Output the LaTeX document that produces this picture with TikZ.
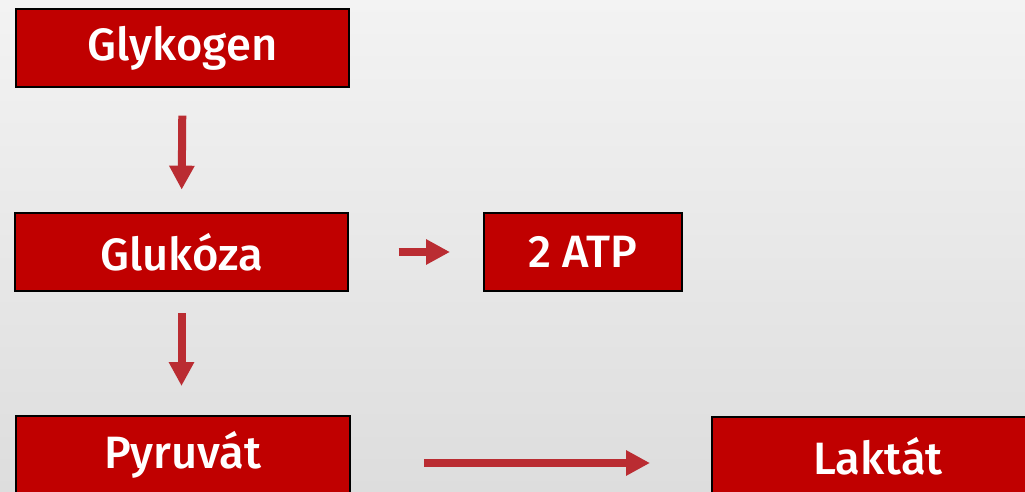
\documentclass[tikz,border=0pt]{standalone}
\usepackage{fontspec}
\setmainfont{Fira Sans}[UprightFont=* Medium]
\usetikzlibrary{arrows.meta}
\definecolor{boxred}{HTML}{C00000}
\definecolor{arrred}{HTML}{BA2C32}
\definecolor{bgtop}{HTML}{F3F3F3}
\definecolor{bgbot}{HTML}{DDDDDD}
\tikzset{
  stepbox/.style={draw=black, line width=1pt, fill=boxred, text=white,
    minimum height=58.5pt, inner sep=0pt, font=\fontsize{34}{40}\selectfont},
  flowarrow/.style={draw=arrred, line width=6pt, -{Triangle[length=18pt,width=18pt]}}
}
\begin{document}
\begin{tikzpicture}[x=0.75pt,y=-0.75pt]
\useasboundingbox (0,0) rectangle (1025,492);
\clip (0,0) rectangle (1025,492);
\shade[top color=bgtop, bottom color=bgbot] (0,0) rectangle (1025,492);
\node[stepbox, minimum width=249.75pt] (glykogen) at (182.5,48) {Glykogen};
\node[stepbox, minimum width=249.75pt] (glukoza) at (181.5,252) {Glukóza};
\node[stepbox, minimum width=148.5pt] (atp) at (583,252) {2 ATP};
\node[stepbox, minimum width=250.5pt] (pyruvat) at (183,455) {Pyruvát};
\node[stepbox, minimum width=249pt] (laktat) at (878,456) {Laktát};
\draw[flowarrow, shorten <=21pt, shorten >=17pt] (glykogen.south) -- (glukoza.north);
\draw[flowarrow, shorten <=16pt, shorten >=22pt] (glukoza.south) -- (glukoza.south |- pyruvat.north);
\draw[flowarrow, shorten <=37.5pt, shorten >=25pt] (glukoza.east) -- (atp.west);
\draw[flowarrow, shorten <=55pt, shorten >=46pt] ([yshift=-6pt]pyruvat.east) -- ([yshift=-6pt]pyruvat.east -| laktat.west);
\end{tikzpicture}
\end{document}
